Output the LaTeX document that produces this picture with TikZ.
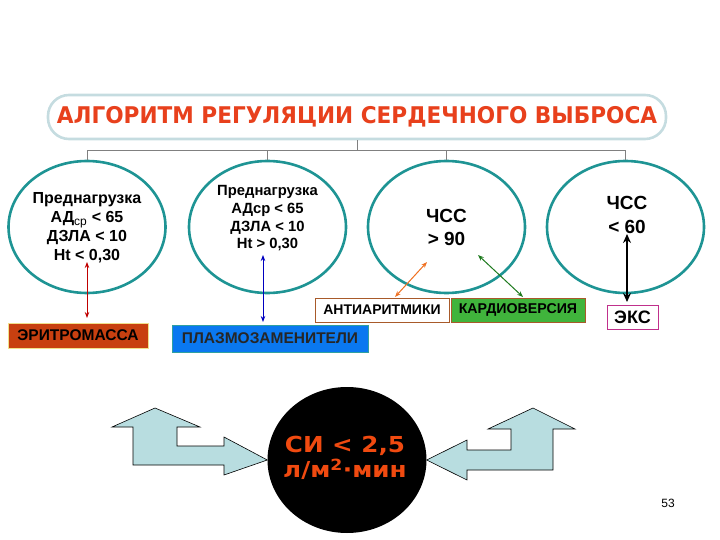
\documentclass[tikz,border=0pt]{standalone}
\usepackage{fontspec}
\setmainfont{Liberation Sans}
\newfontfamily\dvfont{DejaVu Sans}
\usetikzlibrary{arrows.meta,shapes.geometric}
\definecolor{titlered}{HTML}{E8401C}
\definecolor{titleframe}{HTML}{C5DCE0}
\definecolor{ovalteal}{HTML}{1E9494}
\definecolor{eritfill}{HTML}{C84010}
\definecolor{eritframe}{HTML}{F0E08A}
\definecolor{plasfill}{HTML}{0A78F0}
\definecolor{plasframe}{HTML}{30A0A0}
\definecolor{brownframe}{HTML}{A85A2A}
\definecolor{kardfill}{HTML}{40B43C}
\definecolor{eksframe}{HTML}{C0308C}
\definecolor{arrowfill}{HTML}{B8DDE0}
\definecolor{ciorange}{HTML}{F04A10}
\definecolor{arrred}{HTML}{C00000}
\definecolor{arrblue}{HTML}{0000C0}
\definecolor{arrorange}{HTML}{F07020}
\definecolor{arrgreen}{HTML}{1E7A1E}
\begin{document}
\begin{tikzpicture}[x=1pt,y=-1pt,
  oval/.style={ellipse, draw=ovalteal, line width=2.6pt, fill=white, minimum width=157pt, minimum height=132pt, inner sep=0pt},
  ovaltext/.style={font=\bfseries\fontsize{16}{19}\selectfont, align=center, inner sep=0pt},
  conn/.style={draw=gray, line width=0.8pt},
  tag/.style={font=\bfseries\fontsize{15.5}{17}\selectfont, inner sep=0pt, line width=1pt},
  link/.style={line width=1pt, {Stealth[length=6pt,width=4.5pt]}-{Stealth[length=6pt,width=4.5pt]}},
  bigarrow/.style={draw=black, line width=0.6pt, fill=arrowfill}
]
\useasboundingbox (0,0) rectangle (720,540);

% title
\node[draw=titleframe, line width=2.6pt, fill=white, rounded corners=21pt,
      minimum width=618pt, minimum height=44pt, inner sep=0pt,
      text=titlered, font=\dvfont\bfseries\fontsize{23}{26}\selectfont] (title) at (357,117)
      {\scalebox{0.94}[1]{АЛГОРИТМ РЕГУЛЯЦИИ СЕРДЕЧНОГО ВЫБРОСА}};

% ovals
\node[oval] (e1) at (87,227) {};
\node[oval] (e2) at (267.5,227) {};
\node[oval] (e3) at (446.5,227) {};
\node[oval] (e4) at (625.5,227) {};

\coordinate (bus) at (0,150);
\draw[conn] (e1.north) -- (e1.north |- bus) -- (e4.north |- bus) -- (e4.north);
\draw[conn] (e2.north) -- (e2.north |- bus);
\draw[conn] (e3.north) -- (e3.north |- bus);
\draw[conn] (title.south) -- (title.south |- bus);

% oval texts
\node[ovaltext] (t1) at (87,228) {Преднагрузка\\АД\textsubscript{\fontsize{12}{13}\selectfont\mdseries ср} < 65\\ДЗЛА < 10\\Ht < 0,30};
\node[ovaltext, font=\bfseries\fontsize{14.8}{17.7}\selectfont] (t2) at (267.5,218.5) {Преднагрузка\\АДср < 65\\ДЗЛА < 10\\Ht > 0,30};
\node[ovaltext, font=\bfseries\fontsize{19}{23.5}\selectfont] (t3) at (446.5,227.5) {ЧСС\\> 90};
\node[ovaltext, font=\bfseries\fontsize{19}{23.5}\selectfont] (t4) at (627,215) {ЧСС\\< 60};

% boxes
\node[tag, draw=eritframe, fill=eritfill, minimum width=140pt, minimum height=25pt] (erit) at (78,335.5) {ЭРИТРОМАССА};
\node[tag, draw=plasframe, fill=plasfill, minimum width=196pt, minimum height=27pt, text=black!85] (plas) at (270,338.5) {ПЛАЗМОЗАМЕНИТЕЛИ};
\node[tag, draw=brownframe, fill=white, minimum width=134pt, minimum height=24pt, font=\bfseries\fontsize{14}{16}\selectfont] (anti) at (382,310) {АНТИАРИТМИКИ};
\node[tag, draw=brownframe, fill=kardfill, minimum width=134pt, minimum height=24pt, font=\bfseries\fontsize{14.2}{16}\selectfont] (kard) at (518,310) {КАРДИОВЕРСИЯ};
\node[tag, draw=eksframe, fill=white, minimum width=51pt, minimum height=24pt, font=\bfseries\fontsize{18}{20}\selectfont] (eks) at (632.5,317) {ЭКС};

% link arrows
\coordinate (r1) at (87,262);  \coordinate (r2) at (87,318);
\coordinate (b1) at (263,255); \coordinate (b2) at (263,322);
\coordinate (o1) at (427,262); \coordinate (o2) at (395,297);
\coordinate (g1) at (478,255); \coordinate (g2) at (523,297);
\coordinate (k1) at (627,234); \coordinate (k2) at (627,302);
\draw[link, arrred] (r1) -- (r2);
\draw[link, arrblue] (b1) -- (b2);
\draw[link, arrorange] (o1) -- (o2);
\draw[link, arrgreen] (g1) -- (g2);
\draw[black, line width=2.6pt, {Stealth[length=9pt,width=8pt]}-{Stealth[length=9pt,width=8pt]}] (k1) -- (k2);

% bottom
\node[ellipse, fill=black, minimum width=159pt, minimum height=146pt, inner sep=0pt] (ci) at (347,460) {};
\node[text=ciorange, align=center, inner sep=0pt, font=\dvfont\bfseries\fontsize{22}{25}\selectfont] (citext) at (345,458)
      {\scalebox{1.12}[1]{СИ < 2,5}\\\scalebox{1.12}[1]{л/м\textsuperscript{2}·мин}};

\draw[bigarrow] (155,408) -- (200,427) -- (177,427) -- (177,446) -- (224,446) -- (224,437)
  -- (ci.west) -- (224,475) -- (224,465) -- (133,465) -- (133,427) -- (112,427) -- cycle;
\draw[bigarrow] (533,408) -- (575,429) -- (553,429) -- (553,470) -- (467,470) -- (467,480)
  -- (ci.east) -- (467,440) -- (467,450) -- (511,450) -- (511,429) -- (488,429) -- cycle;

\node[font=\fontsize{12}{14}\selectfont, inner sep=0pt] (page) at (668,503) {53};
\end{tikzpicture}
\end{document}
